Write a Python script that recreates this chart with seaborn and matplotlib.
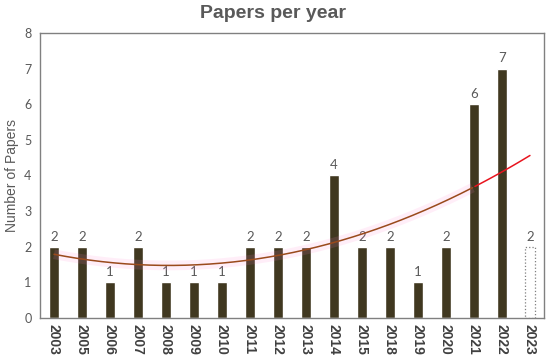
import matplotlib as mpl
mpl.use("Agg")
import matplotlib.pyplot as plt
import seaborn as sns
import numpy as np
import pandas as pd

# data
years = ["2003", "2005", "2006", "2007", "2008", "2009", "2010", "2011", "2012",
         "2013", "2014", "2015", "2018", "2019", "2020", "2021", "2022", "2023"]
papers = [2, 2, 1, 2, 1, 1, 1, 2, 2, 2, 4, 2, 2, 1, 2, 6, 7, 2]

bar_color = "#403820"
text_gray = "#595959"

sns.set_theme(style="white")
plt.rcParams["font.family"] = ["Liberation Sans", "DejaVu Sans"]

df = pd.DataFrame({"year": years, "papers": papers})

fig = plt.figure(figsize=(5.5, 3.62), dpi=100)
ax = fig.add_axes([0.0727, 0.1215, 0.9163, 0.7875])

sns.barplot(data=df, x="year", y="papers", color=bar_color, saturation=1,
            width=0.33, ax=ax)

# last bar: partial year, white with dotted outline
last = ax.patches[-1]
last.set_facecolor("white")
last.set_edgecolor("#7f7f7f")
last.set_linestyle(":")
last.set_linewidth(0.9)

ax.bar_label(ax.containers[0], labels=[str(v) for v in papers], padding=3,
             fontsize=9.5, color=text_gray, family="Lato")

# polynomial (order 2) trendline over all categories
xi = np.arange(len(papers))
coef = np.polyfit(xi, papers, 2)
xs = np.linspace(0, len(papers) - 1, 200)
ys = np.polyval(coef, xs)
split = 15
ax.plot(xs[xs <= split], ys[xs <= split], color="#ff80d0", alpha=0.13, lw=7,
        solid_capstyle="butt", zorder=3)
ax.plot(xs[xs <= split], ys[xs <= split], color="#9a4a1c", lw=1.1, zorder=4)
ax.plot(xs[xs >= split], ys[xs >= split], color="#e8141e", lw=1.1, zorder=4)

ax.set_xlim(-0.5, len(years) - 0.5)
ax.set_ylim(0, 8)
ax.set_yticks(range(0, 9))
ax.tick_params(axis="both", length=0)
ax.tick_params(axis="y", labelsize=9, labelcolor=text_gray, pad=6)
for lab in ax.get_yticklabels():
    lab.set_family("Lato")
ax.tick_params(axis="x", labelsize=10, labelcolor="#404040", pad=4)
for lab in ax.get_xticklabels():
    lab.set_rotation(-90)
    lab.set_fontweight("bold")

ax.set_xlabel("")
ax.set_ylabel("Number of Papers", fontsize=10, color=text_gray, labelpad=4)

for side in ["left", "right", "top", "bottom"]:
    ax.spines[side].set_visible(True)
    ax.spines[side].set_color("#808080")
    ax.spines[side].set_linewidth(1.0)

fig.text(0.497, 0.962, "Papers per year", ha="center", va="center",
         fontsize=14, fontweight="bold", color=text_gray)

fig.savefig("out.png", dpi=100)
